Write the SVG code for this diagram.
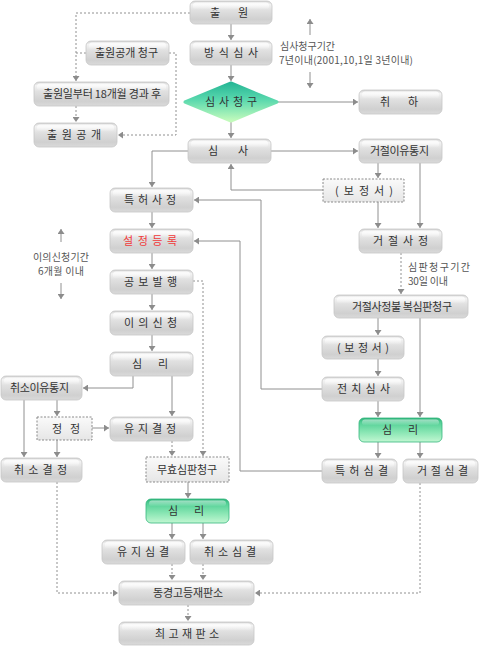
<svg xmlns="http://www.w3.org/2000/svg" width="479" height="646" viewBox="0 0 479 646">
<style>
.b{fill:url(#gb);stroke:#c6c6c6;stroke-width:0.8}
.d{fill:url(#gd);stroke:#8a8a8a;stroke-width:1;stroke-dasharray:2 1.5}
.gr{fill:url(#gg);stroke:#36b67e;stroke-width:0.8}
.h{fill:url(#hl)}
.t{font-family:"Noto Sans CJK KR","Noto Sans",sans-serif;font-size:11px;fill:#333}
.r{fill:#f03a3a}
.a{font-family:"Noto Sans CJK KR","Noto Sans",sans-serif;font-size:10px;fill:#555}
.ln{fill:none;stroke:#909090;stroke-width:1}
.dl{fill:none;stroke:#909090;stroke-width:1;stroke-dasharray:2 2}
</style>
<defs>
<linearGradient id="gb" x1="0" y1="0" x2="0" y2="1">
<stop offset="0" stop-color="#d2d2d2"/>
<stop offset="0.15" stop-color="#f3f3f3"/>
<stop offset="0.4" stop-color="#e0e0e0"/>
<stop offset="0.8" stop-color="#d0d0d0"/>
<stop offset="1" stop-color="#dadada"/>
</linearGradient>
<linearGradient id="gd" x1="0" y1="0" x2="0" y2="1">
<stop offset="0" stop-color="#fafafa"/>
<stop offset="1" stop-color="#e6e6e6"/>
</linearGradient>
<linearGradient id="gg" x1="0" y1="0" x2="0" y2="1">
<stop offset="0" stop-color="#2cb379"/>
<stop offset="0.2" stop-color="#55d197"/>
<stop offset="0.6" stop-color="#8ae6b4"/>
<stop offset="1" stop-color="#c2f7d2"/>
</linearGradient>
<linearGradient id="gdm" x1="0" y1="0" x2="0" y2="1">
<stop offset="0" stop-color="#27b796"/>
<stop offset="0.45" stop-color="#5bd9ae"/>
<stop offset="1" stop-color="#c4fbbc"/>
</linearGradient>
<linearGradient id="hl" x1="0" y1="0" x2="0" y2="1">
<stop offset="0" stop-color="#ffffff" stop-opacity="0.9"/>
<stop offset="1" stop-color="#ffffff" stop-opacity="0"/>
</linearGradient>
<marker id="ar" markerUnits="userSpaceOnUse" markerWidth="7" markerHeight="7" refX="5" refY="3.5" orient="auto">
<path d="M0,0 L5,3.5 L0,7 z" fill="#8c8c8c"/>
</marker>
</defs>

<g id="connectors">
<path class="ln" d="M231,24 V40" marker-end="url(#ar)"/>
<path class="ln" d="M231,65 V81" marker-end="url(#ar)"/>
<path class="dl" d="M190,13 H76 V81" marker-end="url(#ar)"/>
<path class="dl" d="M86,53 H76"/>
<path class="dl" d="M169,53 H176 V135 H118" marker-end="url(#ar)"/>
<path class="dl" d="M76,106 V122" marker-end="url(#ar)"/>
<path class="ln" d="M278,102 H358" marker-end="url(#ar)"/>
<path class="ln" d="M231,122 V138" marker-end="url(#ar)"/>
<path class="ln" d="M188,151 H152 V187" marker-end="url(#ar)"/>
<path class="ln" d="M271,151 H358" marker-end="url(#ar)"/>
<path class="ln" d="M323,190 H231 V164" marker-end="url(#ar)"/>
<path class="ln" d="M378,163 V178" marker-end="url(#ar)"/>
<path class="ln" d="M420,163 V228" marker-end="url(#ar)"/>
<path class="ln" d="M378,202 V228" marker-end="url(#ar)"/>
<path class="ln" d="M322,389 H261 V200 H194" marker-end="url(#ar)"/>
<path class="ln" d="M322,471 H240 V241 H194" marker-end="url(#ar)"/>
<path class="dl" d="M401,253 V294" marker-end="url(#ar)"/>
<path class="ln" d="M152,212 V228" marker-end="url(#ar)"/>
<path class="ln" d="M152,253 V269" marker-end="url(#ar)"/>
<path class="ln" d="M152,294 V310" marker-end="url(#ar)"/>
<path class="ln" d="M152,335 V351" marker-end="url(#ar)"/>
<path class="dl" d="M193,281 H203 V456" marker-end="url(#ar)"/>
<path class="ln" d="M133,376 V388 H83" marker-end="url(#ar)"/>
<path class="ln" d="M172,376 V416" marker-end="url(#ar)"/>
<path class="ln" d="M24,400 V457" marker-end="url(#ar)"/>
<path class="ln" d="M57,400 V416" marker-end="url(#ar)"/>
<path class="ln" d="M57,440 V457" marker-end="url(#ar)"/>
<path class="ln" d="M92,428 H109" marker-end="url(#ar)"/>
<path class="dl" d="M172,441 V456" marker-end="url(#ar)"/>
<path class="dl" d="M57,482 V593 H118" marker-end="url(#ar)"/>
<path class="ln" d="M188,482 V498" marker-end="url(#ar)"/>
<path class="ln" d="M172,523 V539" marker-end="url(#ar)"/>
<path class="ln" d="M203,523 V539" marker-end="url(#ar)"/>
<path class="dl" d="M172,564 V580" marker-end="url(#ar)"/>
<path class="dl" d="M203,564 V580" marker-end="url(#ar)"/>
<path class="dl" d="M188,605 V621" marker-end="url(#ar)"/>
<path class="ln" d="M378,318 V335" marker-end="url(#ar)"/>
<path class="ln" d="M420,318 V417" marker-end="url(#ar)"/>
<path class="ln" d="M378,359 V376" marker-end="url(#ar)"/>
<path class="ln" d="M378,401 V417" marker-end="url(#ar)"/>
<path class="ln" d="M378,442 V458" marker-end="url(#ar)"/>
<path class="ln" d="M420,442 V458" marker-end="url(#ar)"/>
<path class="dl" d="M420,483 V593 H255" marker-end="url(#ar)"/>
<path class="ln" d="M310,35 V19" marker-end="url(#ar)"/>
<path class="ln" d="M310,72 V88" marker-end="url(#ar)"/>
<path class="ln" d="M61,242 V229" marker-end="url(#ar)"/>
<path class="ln" d="M61,283 V299" marker-end="url(#ar)"/>
</g>

<g id="annotations">
<text class="a" x="280" y="50" textLength="55" lengthAdjust="spacing">심사청구기간</text>
<text class="a" x="279" y="64" textLength="134" lengthAdjust="spacing">7년이내(2001,10,1일 3년이내)</text>
<text class="a" x="33" y="261" textLength="56" lengthAdjust="spacing">이의신청기간</text>
<text class="a" x="38" y="275" textLength="46" lengthAdjust="spacing">6개월 이내</text>
<text class="a" x="408" y="271" textLength="62" lengthAdjust="spacing">심판청구기간</text>
<text class="a" x="408" y="285" textLength="40" lengthAdjust="spacing">30일 이내</text>
</g>

<g id="n-chulwon"><rect class="b" x="190" y="1" width="82" height="23" rx="5"/><rect class="h" x="193" y="2.5" width="76" height="7" rx="3"/><text class="t" x="210" y="17" textLength="38" lengthAdjust="spacing">출 원</text></g>
<g id="n-bangsik"><rect class="b" x="190" y="41" width="82" height="24" rx="5"/><rect class="h" x="193" y="42.5" width="76" height="7" rx="3"/><text class="t" x="204" y="57" textLength="54" lengthAdjust="spacing">방 식 심 사</text></g>
<g id="n-gonggae-req"><rect class="b" x="86" y="41" width="83" height="24" rx="5"/><rect class="h" x="89" y="42.5" width="77" height="7" rx="3"/><text class="t" x="95" y="57" textLength="63" lengthAdjust="spacing">출원공개 청구</text></g>
<g id="n-18"><rect class="b" x="34" y="82" width="135" height="24" rx="5"/><rect class="h" x="37" y="83.5" width="129" height="7" rx="3"/><text class="t" x="43" y="98" textLength="118" lengthAdjust="spacing">출원일부터 18개월 경과 후</text></g>
<g id="n-gonggae"><rect class="b" x="34" y="123" width="83" height="24" rx="5"/><rect class="h" x="37" y="124.5" width="77" height="7" rx="3"/><text class="t" x="47" y="139" textLength="54" lengthAdjust="spacing">출 원 공 개</text></g>
<g id="n-simsa-req"><path d="M185,102 L231,83 L277,102 L231,121 Z" fill="url(#gdm)" stroke="url(#gdm)" stroke-width="3" stroke-linejoin="round"/><text class="t" x="205" y="106" textLength="52" lengthAdjust="spacing">심사청구</text></g>
<g id="n-chwiha"><rect class="b" x="359" y="90" width="83" height="24" rx="5"/><rect class="h" x="362" y="91.5" width="77" height="7" rx="3"/><text class="t" x="380" y="106" textLength="38" lengthAdjust="spacing">취 하</text></g>
<g id="n-simsa"><rect class="b" x="188" y="139" width="83" height="24" rx="5"/><rect class="h" x="191" y="140.5" width="77" height="7" rx="3"/><text class="t" x="208" y="155" textLength="40" lengthAdjust="spacing">심 사</text></g>
<g id="n-geojeol-notice"><rect class="b" x="359" y="139" width="83" height="24" rx="5"/><rect class="h" x="362" y="140.5" width="77" height="7" rx="3"/><text class="t" x="370" y="155" textLength="59" lengthAdjust="spacing">거절이유통지</text></g>
<g id="n-bojeong1"><rect class="d" x="323" y="179" width="81" height="23"/><text class="t" x="335" y="194.5" textLength="58" lengthAdjust="spacing">( 보 정 서 )</text></g>
<g id="n-geojeol"><rect class="b" x="359" y="229" width="83" height="24" rx="5"/><rect class="h" x="362" y="230.5" width="77" height="7" rx="3"/><text class="t" x="373" y="245" textLength="55" lengthAdjust="spacing">거 절 사 정</text></g>
<g id="n-teukheo"><rect class="b" x="110" y="188" width="83" height="24" rx="5"/><rect class="h" x="113" y="189.5" width="77" height="7" rx="3"/><text class="t" x="124" y="204" textLength="52" lengthAdjust="spacing">특 허 사 정</text></g>
<g id="n-seoljeong"><rect class="b" x="110" y="229" width="83" height="24" rx="5"/><rect class="h" x="113" y="230.5" width="77" height="7" rx="3"/><text class="t r" x="123" y="245" textLength="54" lengthAdjust="spacing">설 정 등 록</text></g>
<g id="n-gongbo"><rect class="b" x="110" y="270" width="83" height="24" rx="5"/><rect class="h" x="113" y="271.5" width="77" height="7" rx="3"/><text class="t" x="124" y="286" textLength="53" lengthAdjust="spacing">공 보 발 행</text></g>
<g id="n-iui"><rect class="b" x="110" y="311" width="83" height="24" rx="5"/><rect class="h" x="113" y="312.5" width="77" height="7" rx="3"/><text class="t" x="124" y="327" textLength="53" lengthAdjust="spacing">이 의 신 청</text></g>
<g id="n-simri1"><rect class="b" x="110" y="352" width="83" height="24" rx="5"/><rect class="h" x="113" y="353.5" width="77" height="7" rx="3"/><text class="t" x="132" y="368" textLength="36" lengthAdjust="spacing">심 리</text></g>
<g id="n-chwiso-notice"><rect class="b" x="1" y="376" width="81" height="24" rx="5"/><rect class="h" x="4" y="377.5" width="75" height="7" rx="3"/><text class="t" x="10" y="392" textLength="59" lengthAdjust="spacing">취소이유통지</text></g>
<g id="n-jeongjeong"><rect class="d" x="37" y="417" width="55" height="23"/><text class="t" x="52" y="432.5" textLength="28" lengthAdjust="spacing">정 정</text></g>
<g id="n-yuji"><rect class="b" x="110" y="417" width="83" height="24" rx="5"/><rect class="h" x="113" y="418.5" width="77" height="7" rx="3"/><text class="t" x="124" y="433" textLength="52" lengthAdjust="spacing">유 지 결 정</text></g>
<g id="n-chwiso"><rect class="b" x="1" y="458" width="81" height="24" rx="5"/><rect class="h" x="4" y="459.5" width="75" height="7" rx="3"/><text class="t" x="14" y="474" textLength="53" lengthAdjust="spacing">취 소 결 정</text></g>
<g id="n-muhyo"><rect class="d" x="146" y="457" width="83" height="25"/><text class="t" x="157" y="473.5" textLength="60" lengthAdjust="spacing">무효심판청구</text></g>
<g id="n-simri2"><rect class="gr" x="146" y="499" width="83" height="24" rx="5"/><rect class="h" x="149" y="500.5" width="77" height="6" rx="3" opacity="0.6"/><text class="t" x="168" y="515" textLength="36" lengthAdjust="spacing">심 리</text></g>
<g id="n-yujisim"><rect class="b" x="102" y="540" width="83" height="24" rx="5"/><rect class="h" x="105" y="541.5" width="77" height="7" rx="3"/><text class="t" x="117" y="556" textLength="52" lengthAdjust="spacing">유 지 심 결</text></g>
<g id="n-chwisosim"><rect class="b" x="190" y="540" width="83" height="24" rx="5"/><rect class="h" x="193" y="541.5" width="77" height="7" rx="3"/><text class="t" x="204" y="556" textLength="52" lengthAdjust="spacing">취 소 심 결</text></g>
<g id="n-tokyo"><rect class="b" x="119" y="581" width="135" height="24" rx="5"/><rect class="h" x="122" y="582.5" width="129" height="7" rx="3"/><text class="t" x="153" y="597" textLength="70" lengthAdjust="spacing">동경고등재판소</text></g>
<g id="n-supreme"><rect class="b" x="119" y="622" width="135" height="23" rx="5"/><rect class="h" x="122" y="623.5" width="129" height="7" rx="3"/><text class="t" x="155" y="637.5" textLength="64" lengthAdjust="spacing">최 고 재 판 소</text></g>
<g id="n-bulbok"><rect class="b" x="334" y="295" width="134" height="23" rx="5"/><rect class="h" x="337" y="296.5" width="128" height="7" rx="3"/><text class="t" x="352" y="310.5" textLength="100" lengthAdjust="spacing">거절사정불 복심판청구</text></g>
<g id="n-bojeong2"><rect class="b" x="322" y="336" width="82" height="23" rx="5"/><rect class="h" x="325" y="337.5" width="76" height="7" rx="3"/><text class="t" x="337" y="351.5" textLength="52" lengthAdjust="spacing">( 보 정 서 )</text></g>
<g id="n-jeonchi"><rect class="b" x="322" y="377" width="82" height="24" rx="5"/><rect class="h" x="325" y="378.5" width="76" height="7" rx="3"/><text class="t" x="337" y="393" textLength="53" lengthAdjust="spacing">전 치 심 사</text></g>
<g id="n-simri3"><rect class="gr" x="359" y="418" width="83" height="24" rx="5"/><rect class="h" x="362" y="419.5" width="77" height="6" rx="3" opacity="0.6"/><text class="t" x="382" y="434" textLength="36" lengthAdjust="spacing">심 리</text></g>
<g id="n-teukheosim"><rect class="b" x="322" y="459" width="75" height="24" rx="5"/><rect class="h" x="325" y="460.5" width="69" height="7" rx="3"/><text class="t" x="335" y="475" textLength="53" lengthAdjust="spacing">특 허 심 결</text></g>
<g id="n-geojeolsim"><rect class="b" x="403" y="459" width="75" height="24" rx="5"/><rect class="h" x="406" y="460.5" width="69" height="7" rx="3"/><text class="t" x="417" y="475" textLength="51" lengthAdjust="spacing">거 절 심 결</text></g>
</svg>
